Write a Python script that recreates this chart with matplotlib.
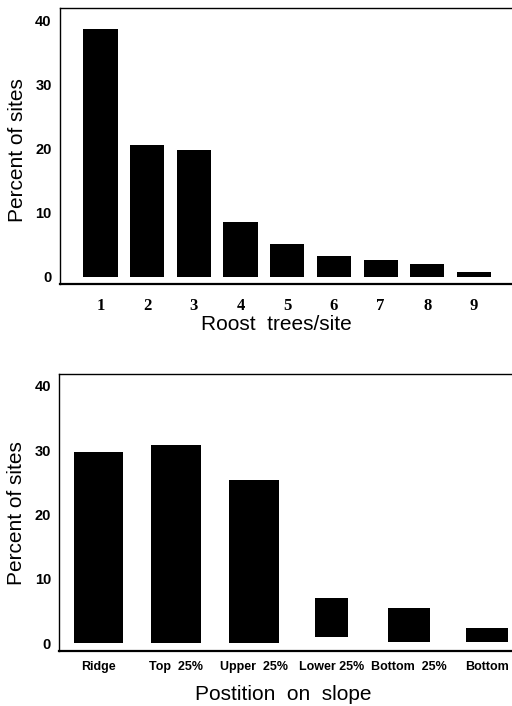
#--------------------------------------------------------------
# Dos graficas de barras: arboles por sitio y posicion en la ladera
#--------------------------------------------------------------
import matplotlib
matplotlib.use("Agg")
import matplotlib.pyplot as plt

#------------------------- DATOS -----------------------------
# grafica de arriba
arboles = ["1", "2", "3", "4", "5", "6", "7", "8", "9"]
pct_arboles = [38.7, 20.5, 19.8, 8.5, 5.2, 3.3, 2.7, 2.0, 0.7]

# grafica de abajo
ladera = ["Ridge", "Top  25%", "Upper  25%", "Lower 25%", "Bottom  25%", "Bottom"]
pct_ladera = [29.7, 30.8, 25.4, 7.05, 5.5, 2.4]
base_ladera = [0, 0, 0, 0.9, 0.15, 0.2]   # asi sale en el escaneo

y_ticks = [0, 10, 20, 30, 40]

#------------------------- ESTILO ----------------------------
ancho_ladera = [0.63, 0.65, 0.64, 0.42, 0.54, 0.54]
fuente = "Liberation Sans"
W, H = 512, 706

fig = plt.figure(figsize=(W / 100, H / 100), dpi=100)

def ejes(izq, arriba, abajo):
    # convierte pixeles a fracciones de la figura
    return fig.add_axes([izq / W, 1 - abajo / H, (515 - izq) / W, (abajo - arriba) / H])

def arreglar(ax):
    ax.spines["right"].set_visible(False)
    ax.spines["bottom"].set_linewidth(1.6)
    ax.spines["left"].set_linewidth(1.0)
    ax.spines["top"].set_linewidth(1.0)
    ax.set_yticks(y_ticks)
    ax.set_yticklabels([str(v) for v in y_ticks], fontfamily=fuente,
                       fontweight="bold", fontsize=10.5)
    ax.tick_params(axis="both", length=0)
    ax.tick_params(axis="y", pad=6)
    ax.set_ylabel("Percent of sites", fontfamily=fuente, fontsize=15, va="center")

#----------------------- GRAFICA 1 ---------------------------
ax1 = ejes(60, 8, 284)
pos1 = list(range(1, len(arboles) + 1))
ax1.bar(pos1, pct_arboles, width=0.73, color="black")
ax1.set_xlim(0.133, 9.88)
ax1.set_ylim(-1.1, 41.9)
arreglar(ax1)
ax1.set_xticks(pos1)
ax1.set_xticklabels(arboles, fontfamily="Liberation Serif", fontweight="bold", fontsize=12)
ax1.tick_params(axis="x", pad=10)
ax1.set_xlabel("Roost  trees/site", fontfamily=fuente, fontsize=15, va="center")
ax1.xaxis.set_label_coords(0.475, -0.145)
ax1.yaxis.set_label_coords(-0.0945, 0.486)

#----------------------- GRAFICA 2 ---------------------------
ax2 = ejes(59.3, 374.3, 651)
pos2 = list(range(len(ladera)))
ax2.bar(pos2, [p - b for p, b in zip(pct_ladera, base_ladera)], bottom=base_ladera,
        width=ancho_ladera, color="black")
ax2.set_xlim(-0.5, 5.36)
ax2.set_ylim(-1.2, 41.8)
arreglar(ax2)
ax2.set_xticks(pos2)
ax2.set_xticklabels(ladera, fontfamily=fuente, fontweight="bold", fontsize=9)
ax2.tick_params(axis="x", pad=7)
ax2.set_xlabel("Postition  on  slope", fontfamily=fuente, fontsize=15, va="center")
ax2.xaxis.set_label_coords(0.491, -0.159)
ax2.yaxis.set_label_coords(-0.094, 0.499)

# guardar la figura
plt.savefig("out.png", dpi=100)
